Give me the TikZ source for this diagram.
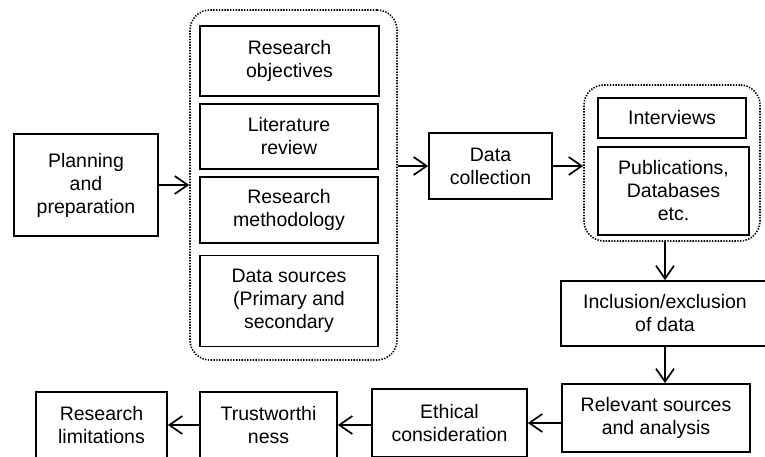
\documentclass[tikz,border=0pt]{standalone}
\usepackage{fontspec}
\setmainfont{Liberation Sans}
\usepackage{tikz}
\usetikzlibrary{arrows.meta}
\newcommand{\boxfont}{\fontsize{19.5}{23}\selectfont}
\tikzset{
  box/.style={draw, line width=1.7pt, align=center, inner sep=0pt, font=\boxfont},
  group/.style={draw, line width=1.6pt, dash pattern=on 1.4pt off 1.4pt, rounded corners=20pt, inner sep=0pt},
  arr/.style={line width=1.7pt, -{Straight Barb[length=13pt,width=18pt]}}
}
\begin{document}
\begin{tikzpicture}[x=1pt,y=-1pt]
            \useasboundingbox (0,0) rectangle (765,456);
            \coordinate (P) at (86,185);
            \coordinate (C) at (490.5,166);
            \node[group, minimum width=207pt, minimum height=350pt] (grpA) at (293.5,185) {};
            \node[group, minimum width=176pt, minimum height=156pt] (grpB) at (672,163) {};
            \node[box, minimum width=144pt, minimum height=102pt] (plan) at (P) {Planning\\and\\preparation};
            \node[box, minimum width=179pt, minimum height=70pt] (obj) at (289.5,61) {Research\\objectives};
            \node[box, minimum width=178pt, minimum height=65pt] (lit) at (289,136.5) {Literature\\review};
            \node[box, minimum width=178pt, minimum height=66pt] (meth) at (289,210) {Research\\methodology};
            \node[box, minimum width=178pt, minimum height=91pt] (src) at (289,301) {Data sources\\(Primary and\\secondary};
            \node[box, minimum width=123pt, minimum height=66pt] (coll) at (C) {Data\\collection};
            \node[box, minimum width=148pt, minimum height=40pt] (intv) at (672,118) {Interviews};
            \node[box, minimum width=151pt, minimum height=88pt] (pub) at (673.5,191) {Publications,\\Databases\\etc.};
            \node[box, minimum width=208pt, minimum height=65pt] (incl) at (665,313.5) {Inclusion/exclusion\\of data};
            \node[box, minimum width=188pt, minimum height=68pt] (rel) at (656,418) {Relevant sources\\and analysis};
            \node[box, minimum width=155pt, minimum height=68pt] (eth) at (449.5,423) {Ethical\\consideration};
            \node[box, minimum width=137pt, minimum height=66pt] (trust) at (268.5,425) {Trustworthi\\ness};
            \node[box, minimum width=131pt, minimum height=66pt] (lim) at (101.5,425) {Research\\limitations};
            \draw[arr] (plan.east) -- (plan.east -| grpA.west);
            \draw[arr] (coll.west -| grpA.east) -- (coll.west);
            \draw[arr] (coll.east) -- (coll.east -| grpB.west);
            \draw[arr] (grpB.south -| incl.north) -- (incl.north);
            \draw[arr] (incl.south) -- (incl.south |- rel.north);
            \draw[arr] (eth.east -| rel.west) -- (eth.east);
            \draw[arr] (trust.east -| eth.west) -- (trust.east);
            \draw[arr] (trust.west) -- (trust.west -| lim.east);
        \end{tikzpicture}
\end{document}
